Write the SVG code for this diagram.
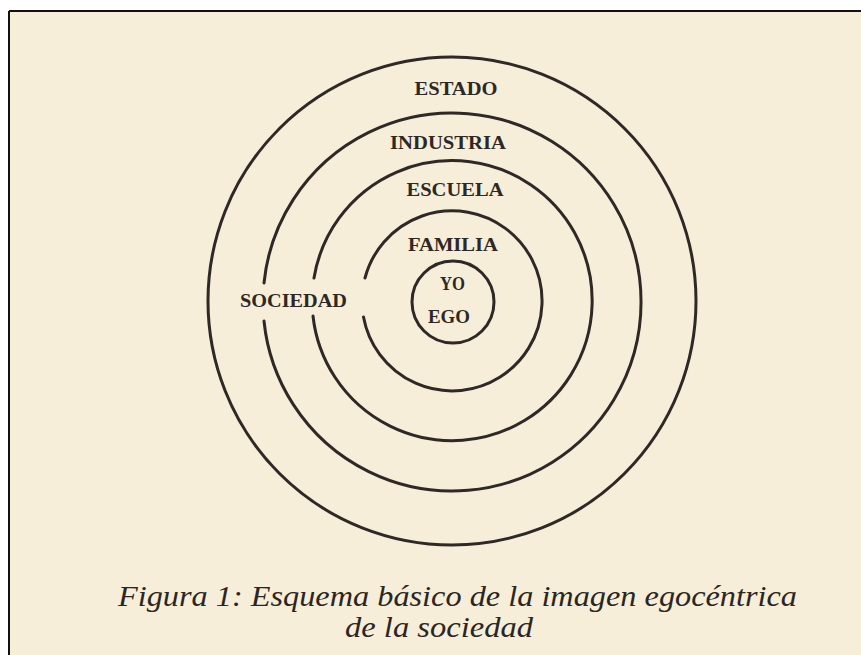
<svg xmlns="http://www.w3.org/2000/svg" width="861" height="655" viewBox="0 0 861 655">
<style>
.ring{fill:none;stroke:#2e2926;stroke-width:3;stroke-linecap:round}
.lbl{font-family:"Liberation Serif","DejaVu Serif",serif;font-size:18.5px;font-weight:bold;fill:#2e2824;text-anchor:middle}
.cap{font-family:"Liberation Serif","DejaVu Serif",serif;font-style:italic;font-size:29px;fill:#2b2623;text-anchor:middle}
.frame{stroke:#111;stroke-width:2}
</style>
<rect x="0" y="0" width="861" height="655" fill="#ffffff"/>
<rect x="9" y="11" width="852" height="644" fill="#f7eed9"/>
<line class="frame" x1="9" y1="11" x2="861" y2="11"/>
<line class="frame" x1="9" y1="11" x2="9" y2="655"/>
<g id="connectors"></g>
<g id="estado">
<circle class="ring" cx="452" cy="301" r="244"/>
<text class="lbl" x="456" y="95" textLength="83" lengthAdjust="spacingAndGlyphs">ESTADO</text>
</g>
<g id="industria">
<path class="ring" d="M264,283 A189,189 0 1 1 264,321"/>
<text class="lbl" x="448" y="149" textLength="116" lengthAdjust="spacingAndGlyphs">INDUSTRIA</text>
</g>
<g id="escuela">
<path class="ring" d="M314,278 A140,140 0 1 1 313,316"/>
<text class="lbl" x="455" y="196" textLength="97" lengthAdjust="spacingAndGlyphs">ESCUELA</text>
</g>
<g id="familia">
<path class="ring" d="M365,278 A90,90 0 1 1 363.5,317"/>
<text class="lbl" x="453" y="251" textLength="90" lengthAdjust="spacingAndGlyphs">FAMILIA</text>
</g>
<g id="yo-ego">
<circle class="ring" cx="453" cy="302" r="41"/>
<text class="lbl" x="452.5" y="290" textLength="25" lengthAdjust="spacingAndGlyphs">YO</text>
<text class="lbl" x="449" y="323" textLength="42" lengthAdjust="spacingAndGlyphs">EGO</text>
</g>
<g id="sociedad">
<text class="lbl" x="293.5" y="307" textLength="107" lengthAdjust="spacingAndGlyphs">SOCIEDAD</text>
</g>
<g id="caption">
<text class="cap" x="457.5" y="606" textLength="679" lengthAdjust="spacingAndGlyphs">Figura 1: Esquema básico de la imagen egocéntrica</text>
<text class="cap" x="439" y="637" textLength="188" lengthAdjust="spacingAndGlyphs">de la sociedad</text>
</g>
</svg>
